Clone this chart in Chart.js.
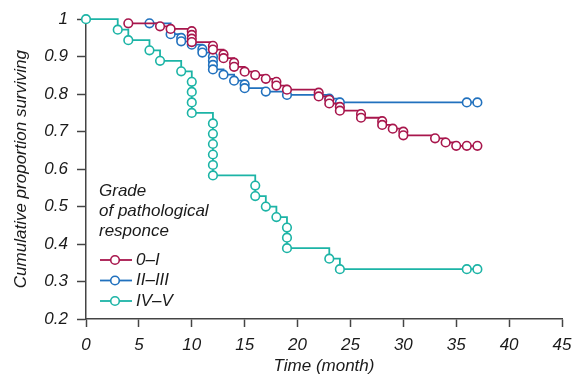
<!DOCTYPE html>
<html>
<head>
<meta charset="utf-8">
<script src="https://cdn.jsdelivr.net/npm/chart.js@4/dist/chart.umd.min.js"></script>
<style>
  html, body { margin: 0; padding: 0; background: #fff; }
  #wrap { width: 580px; height: 377px; position: relative; }
</style>
</head>
<body>
<div id="wrap"><canvas id="c" width="580" height="377"></canvas></div>
<script>
// ---- Data ----
const seriesLabels = ['0\u2013I', 'II\u2013III', 'IV\u2013V'];
const legendTitle = ['Grade', 'of pathological', 'responce'];

const grade01Time = [4, 7, 8, 10, 10, 10, 10, 12, 12, 13, 13, 14, 14, 15, 16, 17, 18, 18, 19, 22, 22, 23, 23, 24, 24, 26, 26, 28, 28, 29, 30, 30, 33, 34, 35, 36, 37];
const grade01Surv = [0.989, 0.981, 0.974, 0.968, 0.958, 0.948, 0.939, 0.929, 0.919, 0.906, 0.896, 0.884, 0.873, 0.860, 0.851, 0.841, 0.833, 0.823, 0.812, 0.804, 0.794, 0.785, 0.775, 0.766, 0.756, 0.747, 0.737, 0.728, 0.718, 0.708, 0.700, 0.690, 0.682, 0.671, 0.662, 0.662, 0.662];

const grade23Time = [6, 8, 9, 9, 10, 11, 11, 12, 12, 12, 12, 13, 14, 15, 15, 17, 19, 23, 24, 36, 37];
const grade23Surv = [0.989, 0.960, 0.950, 0.941, 0.932, 0.920, 0.911, 0.900, 0.889, 0.878, 0.866, 0.852, 0.836, 0.826, 0.816, 0.807, 0.798, 0.788, 0.778, 0.778, 0.778];

const grade45Time = [0, 3, 4, 6, 7, 9, 10, 10, 10, 10, 12, 12, 12, 12, 12, 12, 16, 16, 17, 18, 19, 19, 19, 23, 24, 36, 37];
const grade45Surv = [1, 0.972, 0.944, 0.917, 0.889, 0.861, 0.833, 0.806, 0.778, 0.750, 0.722, 0.694, 0.667, 0.639, 0.611, 0.583, 0.556, 0.528, 0.500, 0.472, 0.444, 0.417, 0.389, 0.361, 0.333, 0.333, 0.333];

const xTickValues = [0, 5, 10, 15, 20, 25, 30, 35, 40, 45];
const xTickLabels = ['0', '5', '10', '15', '20', '25', '30', '35', '40', '45'];
const yTickValues = [0.2, 0.3, 0.4, 0.5, 0.6, 0.7, 0.8, 0.9, 1];
const yTickLabels = ['0.2', '0.3', '0.4', '0.5', '0.6', '0.7', '0.8', '0.9', '1'];

const xTitle = 'Time (month)';
const yTitle = 'Cumulative proportion surviving';

// ---- Styling ----
const colors = ['#a8164c', '#2171be', '#1cb4a6'];
const FONT = '"Liberation Sans", Arial, Helvetica, sans-serif';
const axisColor = '#444';
const textColor = '#1a1a1a';

function pts(xs, ys) { return xs.map((x, i) => ({ x: x, y: ys[i] })); }

const seriesData = [pts(grade01Time, grade01Surv), pts(grade23Time, grade23Surv), pts(grade45Time, grade45Surv)];
const drawOrder = [1, 2, 0];

const datasets = seriesData.map((d, i) => ({
  label: seriesLabels[i],
  data: d,
  showLine: true,
  stepped: 'before',
  borderColor: colors[i],
  borderWidth: 1.8,
  pointRadius: 4.3,
  pointBorderWidth: 1.6,
  pointBackgroundColor: '#fff',
  pointBorderColor: colors[i],
  fill: false,
  clip: false,
  order: drawOrder[i]
}));

const legendPlugin = {
  id: 'kmLegend',
  afterDraw(chart) {
    const ctx = chart.ctx;
    ctx.save();
    ctx.font = 'italic 17px ' + FONT;
    ctx.fillStyle = textColor;
    ctx.textBaseline = 'middle';
    ctx.textAlign = 'left';
    legendTitle.forEach((t, i) => ctx.fillText(t, 99, 191 + i * 20.3));
    chart.data.datasets.forEach((ds, i) => {
      const y = 260 + i * 20.5;
      ctx.strokeStyle = ds.borderColor;
      ctx.lineWidth = 1.8;
      ctx.beginPath();
      ctx.moveTo(100, y);
      ctx.lineTo(132, y);
      ctx.stroke();
      ctx.beginPath();
      ctx.arc(115, y, 4.3, 0, Math.PI * 2);
      ctx.fillStyle = '#fff';
      ctx.fill();
      ctx.lineWidth = 1.6;
      ctx.stroke();
      ctx.fillStyle = textColor;
      ctx.fillText(ds.label, 136, y);
    });
    ctx.restore();
  }
};

new Chart(document.getElementById('c'), {
  type: 'scatter',
  data: { datasets: datasets },
  plugins: [legendPlugin],
  options: {
    responsive: false,
    animation: false,
    layout: { padding: { top: 17, right: 18, left: 0, bottom: 0 } },
    plugins: { legend: { display: false }, tooltip: { enabled: false } },
    scales: {
      x: {
        type: 'linear',
        min: 0, max: 45,
        afterBuildTicks: (s) => { s.ticks = xTickValues.map(v => ({ value: v })); },
        afterFit: (s) => { s.height = 58; },
        grid: { drawOnChartArea: false, drawTicks: true, tickLength: 8, tickWidth: 1.5, tickColor: axisColor },
        border: { display: true, color: axisColor, width: 1.5 },
        ticks: {
          padding: 8,
          color: textColor,
          font: { family: FONT, size: 17, style: 'italic' },
          maxRotation: 0,
          callback: (v) => { const k = xTickValues.indexOf(Math.round(v)); return k >= 0 ? xTickLabels[k] : ''; }
        },
        title: {
          display: true, text: xTitle, color: textColor,
          font: { family: FONT, size: 17, style: 'italic' },
          padding: { top: 0, bottom: 1 }
        }
      },
      y: {
        type: 'linear',
        min: 0.2, max: 1,
        afterBuildTicks: (s) => { s.ticks = yTickValues.map(v => ({ value: v })); },
        afterFit: (s) => { s.width = 86; },
        grid: { drawOnChartArea: false, drawTicks: true, tickLength: 9, tickWidth: 1.5, tickColor: axisColor },
        border: { display: true, color: axisColor, width: 1.5 },
        ticks: {
          padding: 9,
          color: textColor,
          font: { family: FONT, size: 17, style: 'italic' },
          callback: (v) => { const k = yTickValues.findIndex(t => Math.abs(t - v) < 1e-6); return k >= 0 ? yTickLabels[k] : ''; }
        },
        title: {
          display: true, text: yTitle, color: textColor,
          font: { family: FONT, size: 17, style: 'italic' },
          padding: { top: 11, bottom: 0 }
        }
      }
    }
  }
});
</script>
</body>
</html>
